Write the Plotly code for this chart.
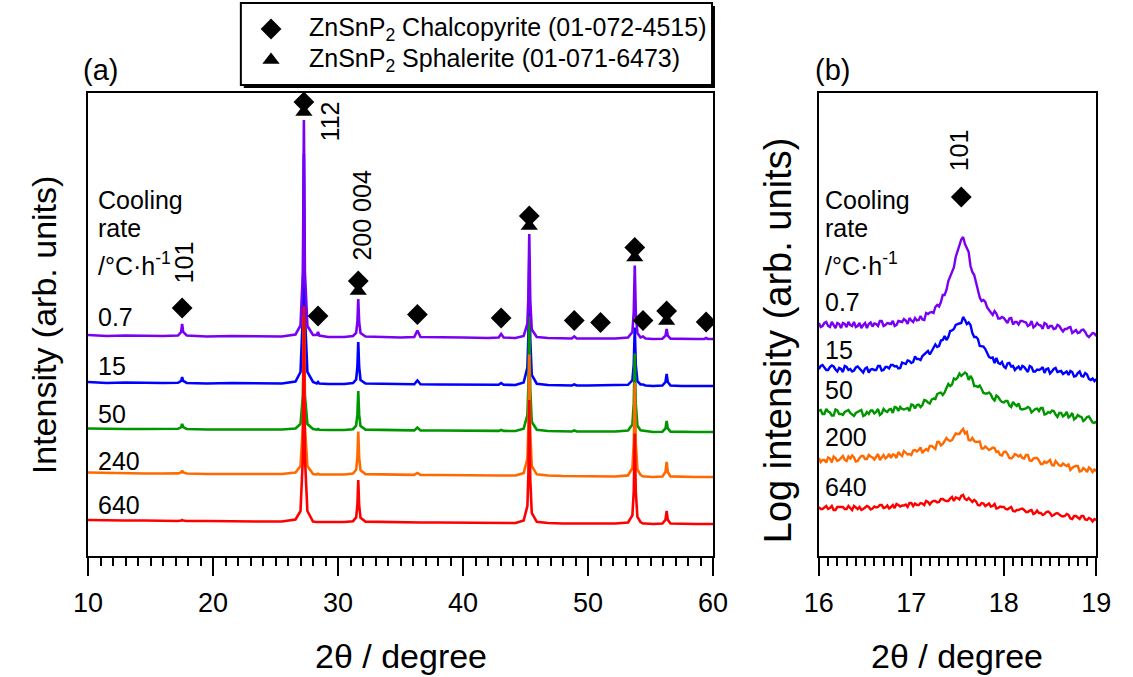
import numpy as np
import plotly.graph_objects as go

W, H = 1133, 677
FONT = "Liberation Sans, Arial, sans-serif"

# ---------------- (a) full XRD scans, 10-60 deg ----------------
cooling_rates_a = ["0.7", "15", "50", "240", "640"]
colors = ["#7A00F2", "#0000FF", "#009600", "#FF6A00", "#FF0000"]
offsets_a = [217, 170, 124, 79, 32]

two_theta_a = [10.0, 11.5, 13.0, 14.5, 16.0, 17.2, 17.45, 17.53, 17.61, 17.9,
               19.5, 21.5, 23.5, 25.5, 26.6, 27.0, 27.19, 27.27, 27.35, 27.55,
               28.0, 28.3, 28.4, 28.5, 29.2, 30.5, 31.2, 31.45, 31.55, 31.62,
               31.69, 31.8, 32.2, 33.5, 35.0, 36.1, 36.35, 36.6, 38.0, 40.0,
               42.0, 42.85, 43.05, 43.25, 44.2, 44.85, 45.15, 45.23, 45.30, 45.38,
               45.5, 45.9, 46.8, 48.0, 48.7, 48.9, 49.1, 50.0, 51.0, 52.2,
               53.2, 53.55, 53.66, 53.74, 53.82, 53.95, 54.2, 54.4, 54.6, 55.2,
               55.95, 56.2, 56.29, 56.38, 56.6, 57.5, 58.6, 59.3, 59.45, 59.6, 60.0]

int_a_07 = [4, 3, 3.5, 3, 3, 3.5, 7, 15, 7, 3.5,
            2.5, 3, 2.5, 2.5, 4.5, 13.5, 67, 219, 67, 13,
            4, 4, 7, 3.5, 2, 2, 3, 6, 17, 40,
            17, 6, 2.5, 2, 1.5, 2, 8.5, 2, 1.5, 1.5,
            1, 1.5, 5, 1.5, 1, 3, 15.5, 42.5, 105, 38.5,
            9.5, 2, 1, 0.5, 0.5, 2.5, 0.5, 0.5, 0.5, 0.5,
            1.5, 7, 27, 73.5, 27, 6, 1.5, 2.5, 0.5, 0,
            0.3, 3.3, 10, 3.3, 0.4, 0, 0, 0, 1, 0, 0]
int_a_15 = [4, 3, 3.5, 3, 3, 3.2, 5, 9, 5, 3,
            2.5, 3, 2.5, 2.5, 4.5, 14, 71, 232, 71, 14,
            4, 2.5, 4, 2.5, 2, 2, 3, 6.5, 19, 44,
            19, 6, 2.5, 2, 1.5, 1.7, 5.5, 1.7, 1.5, 1.5,
            1, 1.2, 3, 1.2, 1, 3.5, 18.5, 51, 127, 46,
            11, 2.3, 1, 0.5, 0.5, 1.5, 0.5, 0.5, 0.5, 0.5,
            1.2, 5.7, 21.4, 58.5, 21.4, 4.8, 1.5, 1.5, 0.5, 0,
            0.4, 4, 12, 4, 0.5, 0, 0, 0, 0, 0, 0]
int_a_50 = [3.5, 3, 3, 3, 3, 3.2, 4.8, 8, 4.8, 3,
            2.5, 2.5, 2.5, 2.5, 3.5, 8, 37, 117, 37, 8,
            3, 2.3, 3, 2.3, 2, 2, 2.8, 6.3, 17.6, 41,
            17.6, 5.9, 2.4, 2, 1.5, 1.6, 4.5, 1.6, 1.5, 1.5,
            1, 1.1, 2, 1.1, 1, 3.3, 17, 47, 116, 42.4,
            10.2, 2.2, 1, 0.5, 0.5, 1.5, 0.5, 0.5, 0.5, 0.5,
            1.4, 7.5, 28.6, 78.5, 28.6, 6.3, 1.8, 1.5, 0.5, 0,
            0.3, 3.6, 11, 3.6, 0.4, 0, 0, 0, 0, 0, 0]
int_a_240 = [4.5, 4, 4, 3.5, 3.5, 3.6, 4.6, 6.5, 4.6, 3.5,
             3, 3, 3, 3, 4.5, 11, 51, 163, 51, 11,
             3, 2.5, 3.2, 2.5, 2.5, 2.5, 3.4, 7.2, 19.7, 45.5,
             19.7, 6.8, 2.9, 2.5, 2, 2.1, 4, 2.1, 2, 1.5,
             1.5, 1.5, 1.5, 1.5, 1.5, 3.9, 18.4, 50, 122.5, 45,
             11.2, 2.7, 1.5, 1, 1, 1, 1, 1, 0.5, 0.5,
             1.6, 9, 34.3, 94.5, 34.3, 7.5, 2.1, 0.5, 0.5, 0,
             0.4, 5, 15, 5, 0.6, 0, 0, 0, 0, 0, 0]
int_a_640 = [4, 3.5, 3.5, 3.5, 3, 3, 3.4, 4, 3.4, 3,
             3, 2.5, 2.5, 2.5, 4.5, 13, 67, 218, 67, 13,
             2.5, 2, 2, 2, 2, 2, 2.8, 6.6, 18.8, 44,
             18.8, 6.2, 2.4, 2, 1.5, 1.5, 1.5, 1.5, 1.5, 1.5,
             1, 1, 1, 1, 1, 3.5, 18, 50, 124, 45,
             11, 2.2, 1, 0.5, 0.5, 0.5, 0.5, 0.5, 0.5, 0.5,
             1.5, 8.6, 33, 90.5, 33, 7.2, 2, 0.5, 0.5, 0,
             0.4, 4.3, 13, 4.3, 0.5, 0, 0, 0, 0, 0, 0]
intensities_a = [int_a_07, int_a_15, int_a_50, int_a_240, int_a_640]

# reference pattern peak positions (2theta)
chalcopyrite_2theta = [17.53, 27.27, 28.40, 31.62, 36.35, 43.05, 45.30,
                       48.90, 51.0, 53.74, 54.40, 56.29, 59.45]
sphalerite_2theta = [27.27, 31.62, 45.30, 53.74, 56.29]

# ---------------- (b) log intensity around the 101 reflection, 0.02 deg steps ----------------
cooling_rates_b = ["0.7", "15", "50", "200", "640"]
two_theta_b = np.linspace(16.0, 19.0, 151)
log_b_07 = [233, 229, 230, 233, 234, 230, 229, 234, 231, 228,
            233, 232, 228, 233, 232, 229, 234, 231, 230, 234,
            229, 230, 233, 228, 231, 233, 228, 232, 233.5, 229.5,
            232.5, 232, 230, 235, 235, 230, 231, 233, 232.5, 232,
            235, 230, 231, 235, 234.5, 234, 237, 235.5, 232, 238,
            235.5, 234, 238, 235.5, 236, 240, 236.5, 236, 243, 242,
            243.5, 244, 243, 249, 251, 249.5, 254, 261, 261, 266,
            275, 279.5, 283, 288.5, 299, 305, 312, 316.5, 319, 312,
            308, 304, 290, 284, 281, 273.5, 267, 258.5, 255, 256,
            254, 248.5, 246, 243.5, 241, 245, 242.5, 237.5, 237.5, 239,
            238, 235.5, 233, 237.5, 238, 231.5, 234, 234, 231.5, 235,
            235, 234, 233.5, 230, 231, 235, 228.5, 230, 233, 231,
            230.5, 227, 233, 232, 227.5, 230, 230, 227, 227.5, 231,
            230, 227, 224.5, 227, 227, 228.5, 229, 223, 224.5, 226,
            223, 223.5, 226, 226.5, 224, 220.5, 219, 221.5, 223, 222.5,
            220]
log_b_15 = [187, 190, 191, 188, 186, 186, 189, 190.5, 189.5, 186.5,
            184.5, 188, 187, 184, 190, 189, 186, 187, 184.5, 185.5,
            188.5, 189.5, 187.5, 184.5, 183.5, 187.5, 188.5, 183.5, 186.5, 187,
            186, 186, 190, 190, 185.5, 186, 189, 189, 187.5, 191,
            191, 189.5, 190, 187.5, 188, 193.5, 193, 192, 195.5, 195,
            193, 194, 199.5, 197, 197, 196, 200, 202, 204, 205,
            201.5, 205, 208, 211.5, 209, 210, 215.5, 216, 220, 216,
            219, 225, 225.5, 227, 231, 232, 232.5, 233, 239, 236,
            232, 233.5, 231, 223, 219, 219, 217, 210, 210, 209.5,
            207, 203, 199, 198, 198.5, 193, 198, 193, 192, 194,
            189.5, 188, 192.5, 193, 189.5, 190, 186, 188, 189.5, 186,
            190, 189, 186.5, 184, 190, 189, 184.5, 184.5, 186.5, 186,
            187, 189, 183, 187, 187.5, 182.5, 184.5, 187, 188, 184,
            184.5, 185, 182, 183, 184.5, 181, 185, 184, 179.5, 180,
            183, 184.5, 180, 179.5, 183, 181.5, 177, 176, 177.5, 175,
            177]
log_b_50 = [145, 146, 142, 142, 147, 144.5, 143.5, 140.5, 140.5, 146.5,
            145.5, 142, 142, 141, 144, 145, 146, 143, 141, 140,
            143, 144, 145, 146, 140, 141, 144, 142, 145.5, 145.5,
            142.5, 144, 147, 141, 142.5, 147, 145, 144, 146.5, 147,
            143, 149, 148.5, 145, 149, 147, 146.5, 147, 148, 145,
            151.5, 151, 147.5, 151, 151.5, 149, 151, 156, 155.5, 153.5,
            152.5, 156.5, 157.5, 157, 162, 163, 163.5, 161, 163.5, 168,
            172, 170, 171.5, 177.5, 176.5, 178.5, 182.5, 180, 182, 183.5,
            182, 176, 180, 177, 170, 170, 169, 170.5, 167, 163,
            162.5, 162.5, 163.5, 161.5, 157.5, 155.5, 160.5, 159, 156, 154,
            153.5, 155, 155, 150.5, 149, 154, 151.5, 150, 152.5, 147,
            146.5, 147, 147.5, 149, 148, 143.5, 145, 147, 147.5, 145,
            148, 148, 141.5, 142, 144, 143, 145.5, 145, 141.5, 139,
            143, 143, 139.5, 141, 144, 138.5, 140, 143, 136.5, 138,
            141, 139.5, 139, 135, 136.5, 139, 139.5, 136, 133.5, 133,
            134.5]
log_b_200 = [98, 94, 96, 96, 93.5, 98.5, 97.5, 93.5, 99.5, 98,
             95, 96, 98, 100, 96, 95, 99.5, 97.5, 100.5, 98.5,
             94.5, 95, 98, 100, 100, 97, 97, 101, 99.5, 98.5,
             96.5, 100, 102, 96, 99, 101, 97.5, 99, 102, 98,
             101.5, 101, 98, 104, 101.5, 100, 105, 103, 101.5, 102,
             101, 105.5, 106, 104.5, 106, 108.5, 103, 105.5, 107, 105.5,
             110, 110, 108.5, 107, 114, 114, 110.5, 112, 115, 118,
             116, 115, 116, 120, 122.5, 122, 122, 125, 127, 122.5,
             124, 116, 115.5, 118, 115, 114, 114.5, 114.5, 107.5, 107.5,
             109.5, 108, 106, 107, 108.5, 108, 104, 104.5, 101, 100.5,
             104, 104.5, 102, 98, 97.5, 99, 102, 101, 99.5, 101,
             98, 97.5, 101, 101, 95.5, 95, 97.5, 98, 98, 95.5,
             92, 92, 94.5, 93, 94.5, 96, 91, 90.5, 95, 93,
             90.5, 90, 92.5, 91, 90, 91.5, 86, 88, 89.5, 90,
             90, 84.5, 85, 88, 86.5, 84, 88.5, 87, 84, 86.5,
             85]
log_b_640 = [49, 47, 47, 49, 50, 47, 48, 50, 46, 46,
             49, 49, 49, 49, 47, 47, 50, 48, 46, 50,
             48, 47, 49, 46, 47, 49, 50, 49, 46.5, 47.5,
             49.5, 48.5, 49, 51, 51, 48, 48.5, 50.5, 47.5, 49,
             51, 48, 52, 51, 49.5, 50.5, 50.5, 51.5, 49, 53,
             53, 50, 52.5, 51, 51, 53, 52.5, 51, 55, 54,
             51.5, 54, 55, 55, 53.5, 54, 57, 57, 55.5, 55,
             55, 57.5, 59, 55, 58.5, 58, 56.5, 60, 61, 57,
             56, 58, 55.5, 54, 56, 54.5, 51, 50.5, 53, 52.5,
             50, 51, 52.5, 49.5, 50, 52, 47.5, 48, 49.5, 49,
             49, 47, 46.5, 48, 49, 45, 44.5, 46, 46, 47,
             47.5, 46, 44, 44, 45.5, 46, 42, 43, 45.5, 43,
             43, 41, 42, 44, 44.5, 43, 40, 41, 42.5, 43,
             41, 40, 39.5, 40, 42, 41, 37.5, 37, 40, 40,
             38.5, 37, 40, 40, 36.5, 36, 38, 37, 34.5, 37,
             36]
log_intensities_b = [log_b_07, log_b_15, log_b_50, log_b_200, log_b_640]


def px(x):
    return x / W


def py(y):
    return 1 - y / H


fig = go.Figure()

# draw order: the 0.7 scan last so it sits on top
draw_order = [1, 2, 3, 4, 0]
for i in draw_order:
    fig.add_trace(go.Scatter(
        x=two_theta_a, y=np.array(intensities_a[i]) + offsets_a[i],
        mode="lines", line=dict(color=colors[i], width=2.6),
        xaxis="x", yaxis="y", showlegend=False, hoverinfo="skip"))

for i in draw_order:
    fig.add_trace(go.Scatter(
        x=two_theta_b, y=log_intensities_b[i],
        mode="lines", line=dict(color=colors[i], width=2.4),
        xaxis="x2", yaxis="y2", showlegend=False, hoverinfo="skip"))

# phase markers above the 0.7 scan
top_a = np.array(int_a_07) + offsets_a[0]
chal_y = []
for t in chalcopyrite_2theta:
    gap = 18 if t in sphalerite_2theta else 16
    chal_y.append(np.interp(t, two_theta_a, top_a) + gap)
sph_y = [np.interp(t, two_theta_a, top_a) + 8 for t in sphalerite_2theta]

fig.add_trace(go.Scatter(x=sphalerite_2theta, y=sph_y, mode="markers",
                         marker=dict(symbol="triangle-up", size=15, color="black"),
                         xaxis="x", yaxis="y", showlegend=False, hoverinfo="skip"))
fig.add_trace(go.Scatter(x=chalcopyrite_2theta, y=chal_y, mode="markers",
                         marker=dict(symbol="diamond", size=16, color="black"),
                         xaxis="x", yaxis="y", showlegend=False, hoverinfo="skip"))

peak_b = max(log_b_07)
fig.add_trace(go.Scatter(x=[17.54], y=[peak_b + 40], mode="markers",
                         marker=dict(symbol="diamond", size=16, color="black"),
                         xaxis="x2", yaxis="y2", showlegend=False, hoverinfo="skip"))

# legend glyphs on a full-page overlay axis
fig.add_trace(go.Scatter(x=[263], y=[29], mode="markers",
                         marker=dict(symbol="diamond", size=16, color="black"),
                         xaxis="x5", yaxis="y5", showlegend=False, hoverinfo="skip"))
fig.add_trace(go.Scatter(x=[263], y=[60], mode="markers",
                         marker=dict(symbol="triangle-up", size=15, color="black"),
                         xaxis="x5", yaxis="y5", showlegend=False, hoverinfo="skip"))

y_dom = [py(556), py(93)]
common_x = dict(showline=True, linecolor="black", linewidth=2, mirror=True,
                ticks="outside", ticklen=18, tickwidth=2, tickcolor="black",
                showgrid=False, zeroline=False, ticklabelstandoff=4,
                tickfont=dict(family=FONT, size=27, color="black"))
common_y = dict(showline=True, linecolor="black", linewidth=2, mirror=True,
                ticks="", showticklabels=False, showgrid=False, zeroline=False,
                range=[0, 463], domain=y_dom)
medium = dict(ticks="outside", ticklen=13, tickwidth=1.5, tickcolor="black",
              showticklabels=False, showline=False, showgrid=False, zeroline=False)

fig.update_layout(
    width=W, height=H, margin=dict(l=0, r=0, t=0, b=0),
    paper_bgcolor="white", plot_bgcolor="rgba(0,0,0,0)",
    xaxis=dict(domain=[px(75), px(717)], range=[10, 60], anchor="y",
               tick0=10, dtick=10,
               minor=dict(dtick=1, ticklen=8, tickwidth=1.5, tickcolor="black", ticks="outside"),
               **common_x),
    yaxis=dict(anchor="x", **common_y),
    xaxis2=dict(domain=[px(825.7), px(1110.7)], range=[16, 19], anchor="y2",
                tick0=16, dtick=1,
                minor=dict(dtick=0.1, ticklen=8, tickwidth=1.5, tickcolor="black", ticks="outside"),
                **common_x),
    yaxis2=dict(anchor="x2", **common_y),
    xaxis3=dict(overlaying="x", anchor="y", range=[10, 60],
                tickvals=[15, 25, 35, 45, 55], **medium),
    xaxis4=dict(overlaying="x2", anchor="y2", range=[16, 19],
                tickvals=[16.5, 17.5, 18.5], **medium),
    xaxis5=dict(domain=[0, 1], range=[0, W], anchor="y5", visible=False),
    yaxis5=dict(domain=[0, 1], range=[H, 0], anchor="x5", visible=False),
    showlegend=False,
)

# legend frame with drop shadow
fig.add_shape(type="rect", xref="paper", yref="paper",
              x0=px(235), x1=px(719), y0=py(88), y1=py(6),
              fillcolor="black", line=dict(width=0), layer="below")
fig.add_shape(type="rect", xref="paper", yref="paper",
              x0=px(232), x1=px(716), y0=py(85), y1=py(3),
              fillcolor="white", line=dict(color="black", width=2), layer="below")

ann = []


def text(x, y, s, size=25, xanchor="left", angle=0):
    ann.append(dict(x=px(x), y=py(y), xref="paper", yref="paper", text=s,
                    showarrow=False, xanchor=xanchor, yanchor="middle",
                    textangle=angle, font=dict(family=FONT, size=size, color="black")))


text(300, 29, "ZnSnP<sub>2</sub> Chalcopyrite (01-072-4515)")
text(300, 60, "ZnSnP<sub>2</sub> Sphalerite (01-071-6473)")
text(68, 70, "(a)", size=29)
text(820, 70, "(b)", size=29)

for x0 in (83, 830):
    text(x0, 200, "Cooling")
    text(x0, 228, "rate")
    text(x0, 264, "/°C·h<sup>-1</sup>")
for lab, y0 in zip(cooling_rates_a, [317, 366, 414, 461, 505]):
    text(83, y0, lab)
for lab, y0 in zip(cooling_rates_b, [302, 350, 390, 437, 487]):
    text(830, y0, lab)

text(174, 262, "101", xanchor="center", angle=-90)
text(324, 121, "112", xanchor="center", angle=-90)
text(356, 216, "200 004", xanchor="center", angle=-90)
text(970, 150, "101", xanchor="center", angle=-90)

# axis titles
text(396, 656, "2θ / degree", size=34, xanchor="center")
text(968, 656, "2θ / degree", size=34, xanchor="center")
text(30, 325, "Intensity (arb. units)", size=34, xanchor="center", angle=-90)
text(784, 340, "Log intensity (arb. units)", size=38, xanchor="center", angle=-90)

fig.update_layout(annotations=ann)
fig.write_html("out.html")
